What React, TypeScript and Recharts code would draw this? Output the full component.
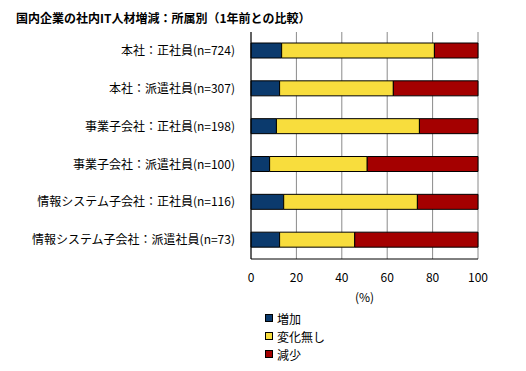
import { BarChart, Bar, XAxis, YAxis, CartesianGrid } from 'recharts';

const categories = [
  '本社：正社員(n=724)',
  '本社：派遣社員(n=307)',
  '事業子会社：正社員(n=198)',
  '事業子会社：派遣社員(n=100)',
  '情報システム子会社：正社員(n=116)',
  '情報システム子会社：派遣社員(n=73)',
];
const increase = [13.5, 12.6, 11.2, 8.2, 14.4, 12.6];
const unchanged = [67.3, 50.1, 63.0, 43.0, 58.9, 33.1];
const decrease = [19.2, 37.3, 25.8, 48.8, 26.7, 54.3];
const xTicks = [0, 20, 40, 60, 80, 100];

const SERIES = [
  { key: 'increase', name: '増加', color: '#0b3a6d' },
  { key: 'unchanged', name: '変化無し', color: '#f8dd3d' },
  { key: 'decrease', name: '減少', color: '#a40000' },
];

const FONT = '"Noto Sans CJK JP", "DejaVu Sans", sans-serif';

const data = categories.map((name, i) => ({
  name,
  increase: increase[i],
  unchanged: unchanged[i],
  decrease: decrease[i],
}));

// plain text tick so long labels don't wrap
const CategoryTick = (props: any) => {
  const { x, y, payload } = props;
  return (
    <text x={x - 8} y={y} dy="0.35em" textAnchor="end" fill="#000" fontSize={12} fontFamily={FONT}>
      {payload.value}
    </text>
  );
};

export default function App() {
  return (
    <div style={{ position: 'absolute', left: 0, top: 0, width: 526, height: 371, background: '#fff' }}>
      <div
        style={{
          position: 'absolute',
          left: 16,
          top: 9,
          fontFamily: FONT,
          fontSize: 12,
          fontWeight: 'bold',
          color: '#000',
          whiteSpace: 'nowrap',
        }}
      >
        国内企業の社内IT人材増減：所属別（1年前との比較）
      </div>
      <BarChart
        width={526}
        height={371}
        data={data}
        layout="vertical"
        margin={{ top: 32, right: 48, bottom: 0, left: 0 }}
        barSize={15}
      >
        <CartesianGrid horizontal={false} stroke="#8a8a8a" />
        <XAxis
          xAxisId="top"
          orientation="top"
          type="number"
          domain={[0, 100]}
          ticks={xTicks}
          tick={false}
          tickLine={false}
          height={0}
          axisLine={{ stroke: '#8a8a8a' }}
        />
        <XAxis
          type="number"
          domain={[0, 100]}
          ticks={xTicks}
          tickLine={false}
          tickSize={12}
          height={112}
          axisLine={{ stroke: '#000' }}
          tick={{ fill: '#000', fontSize: 12, fontFamily: FONT }}
          label={{ value: '(%)', position: 'insideTop', offset: 34, fill: '#000', fontSize: 12, fontFamily: FONT }}
        />
        <YAxis
          type="category"
          dataKey="name"
          width={251}
          tickLine={false}
          axisLine={{ stroke: '#000' }}
          tick={<CategoryTick />}
        />
        {SERIES.map((s) => (
          <Bar
            key={s.key}
            dataKey={s.key}
            name={s.name}
            stackId="a"
            fill={s.color}
            stroke="#000"
            strokeWidth={1}
            isAnimationActive={false}
          />
        ))}
      </BarChart>
      <div
        style={{
          position: 'absolute',
          left: 265,
          top: 309,
          fontFamily: FONT,
          fontSize: 12,
          color: '#000',
        }}
      >
        {SERIES.map((s) => (
          <div key={s.key} style={{ display: 'flex', alignItems: 'center', height: 18 }}>
            <span
              style={{
                display: 'inline-block',
                width: 6,
                height: 6,
                background: s.color,
                border: '1px solid #000',
                marginRight: 4,
              }}
            />
            <span>{s.name}</span>
          </div>
        ))}
      </div>
    </div>
  );
}
